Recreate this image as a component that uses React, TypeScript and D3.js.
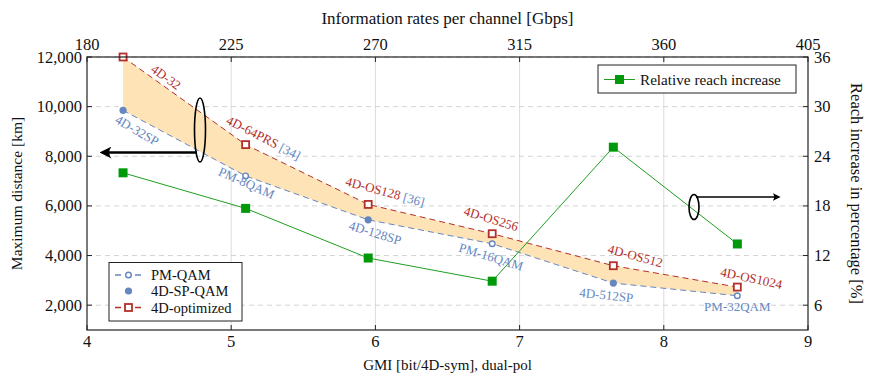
import React from "react";
import * as d3 from "d3";

const gmi = [4.25, 5.1, 5.95, 6.81, 7.65, 8.51];
const optimizedReach = [12000, 8470, 6060, 4880, 3590, 2730];
const baselineReach = [9850, 7210, 5440, 4475, 2890, 2380];
const baselineKind = ["sp", "pm", "sp", "pm", "sp", "pm"];
const reachIncrease = [22.0, 17.7, 11.7, 8.9, 25.1, 13.4];
const optLabels = ["4D-32", "4D-64PRS", "4D-OS128", "4D-OS256", "4D-OS512", "4D-OS1024"];
const optRefs = ["", " [34]", " [36]", "", "", ""];
const baseLabels = ["4D-32SP", "PM-8QAM", "4D-128SP", "PM-16QAM", "4D-512SP", "PM-32QAM"];

const xTicks = [4, 5, 6, 7, 8, 9];
const topTicks = [180, 225, 270, 315, 360, 405];
const leftTicks = [2000, 4000, 6000, 8000, 10000, 12000];
const rightTicks = [6, 12, 18, 24, 30, 36];

const W = 877, H = 376;
const L = 87, R = 808, T = 57, B = 330;

const RED = "#b3302a";
const BLUE = "#6686c0";
const GREEN = "#1f9e1f";
const FILL = "#fde3b6";
const FONT = "'Liberation Serif', 'DejaVu Serif', serif";
const TICK_FS = 16.5;

// label placement (offsets from point, rotation)
const optPlace = [
  { dx: 43, dy: 20, r: 36 },
  { dx: 18, dy: -7, r: 27 },
  { dx: 17, dy: -13, r: 15 },
  { dx: -1, dy: -15, r: 17 },
  { dx: 22, dy: -10, r: 15 },
  { dx: 14, dy: -9, r: 12 },
];
const basePlace = [
  { dx: 14, dy: 20, r: 30 },
  { dx: 1, dy: 7, r: 24 },
  { dx: 7, dy: 13, r: 17 },
  { dx: -1, dy: 13, r: 17 },
  { dx: -7, dy: 12, r: 6 },
  { dx: 0, dy: 11, r: 0 },
];

export default function App() {
  const x = d3.scaleLinear().domain([4, 9]).range([L, R]);
  const xTop = d3.scaleLinear().domain([180, 405]).range([L, R]);
  const yL = d3.scaleLinear().domain([1000, 12000]).range([B, T]);
  const yR = d3.scaleLinear().domain([3, 36]).range([B, T]);

  const idx = gmi.map((_, i) => i);
  const area = d3
    .area<number>()
    .x((i) => x(gmi[i]))
    .y0((i) => yL(baselineReach[i]))
    .y1((i) => yL(optimizedReach[i]));
  const lineOpt = d3.line<number>().x((i) => x(gmi[i])).y((i) => yL(optimizedReach[i]));
  const lineBase = d3.line<number>().x((i) => x(gmi[i])).y((i) => yL(baselineReach[i]));
  const lineGreen = d3.line<number>().x((i) => x(gmi[i])).y((i) => yR(reachIncrease[i]));

  const fmt = d3.format(",");

  return (
    <svg width={W} height={H} style={{ position: "absolute", left: 0, top: 0, background: "#fff" }} fontFamily={FONT}>
      <defs>
        <marker id="ah" viewBox="0 0 10 10" refX="8" refY="5" markerWidth="5" markerHeight="5" orient="auto-start-reverse">
          <path d="M0,0 Q4,5 0,10 L10,5 Z" fill="#000" />
        </marker>
        <clipPath id="plot">
          <rect x={L} y={T} width={R - L} height={B - T} />
        </clipPath>
      </defs>

      {/* grid */}
      {xTicks.slice(1, -1).map((t) => (
        <line key={"vx" + t} x1={x(t)} x2={x(t)} y1={T} y2={B} stroke="#dcdcdc" strokeWidth={1} />
      ))}
      {leftTicks.map((t) => (
        <line key={"hy" + t} x1={L} x2={R} y1={yL(t)} y2={yL(t)} stroke="#c8c8c8" strokeWidth={0.8} strokeDasharray="5,4" />
      ))}

      <g clipPath="url(#plot)">
        <path d={area(idx) || ""} fill={FILL} />
        <path d={lineBase(idx) || ""} fill="none" stroke={BLUE} strokeWidth={1} strokeDasharray="6,4" />
        <path d={lineOpt(idx) || ""} fill="none" stroke={RED} strokeWidth={1} strokeDasharray="6,4" />
        <path d={lineGreen(idx) || ""} fill="none" stroke={GREEN} strokeWidth={1} />
      </g>

      {/* markers */}
      {idx.map((i) => (
        <rect key={"g" + i} x={x(gmi[i]) - 4.5} y={yR(reachIncrease[i]) - 4.5} width={9} height={9} fill="#00990a" />
      ))}
      {idx.map((i) =>
        baselineKind[i] === "sp" ? (
          <circle key={"b" + i} cx={x(gmi[i])} cy={yL(baselineReach[i])} r={3.6} fill={BLUE} />
        ) : (
          <circle key={"b" + i} cx={x(gmi[i])} cy={yL(baselineReach[i])} r={2.8} fill="#fff" stroke={BLUE} strokeWidth={1.4} />
        )
      )}
      {idx.map((i) => (
        <rect key={"r" + i} x={x(gmi[i]) - 3.5} y={yL(optimizedReach[i]) - 3.5} width={7} height={7} fill="#fff" stroke={RED} strokeWidth={1.8} />
      ))}

      {/* labels */}
      {idx.map((i) => {
        const p = optPlace[i];
        const cx = x(gmi[i]) + p.dx, cy = yL(optimizedReach[i]) + p.dy;
        return (
          <text key={"ol" + i} x={cx} y={cy} fontSize={13} textAnchor="middle" dominantBaseline="central" transform={`rotate(${p.r},${cx},${cy})`} fill={RED}>
            {optLabels[i]}
            {optRefs[i] ? <tspan fill={BLUE}>{optRefs[i]}</tspan> : null}
          </text>
        );
      })}
      {idx.map((i) => {
        const p = basePlace[i];
        const cx = x(gmi[i]) + p.dx, cy = yL(baselineReach[i]) + p.dy;
        return (
          <text key={"bl" + i} x={cx} y={cy} fontSize={13} textAnchor="middle" dominantBaseline="central" transform={`rotate(${p.r},${cx},${cy})`} fill={BLUE}>
            {baseLabels[i]}
          </text>
        );
      })}

      {/* ellipses and arrows */}
      <ellipse cx={200} cy={130} rx={5.5} ry={32} fill="none" stroke="#000" strokeWidth={1.6} />
      <line x1={197} y1={152.5} x2={102} y2={152.5} stroke="#000" strokeWidth={2.4} markerEnd="url(#ah)" />
      <ellipse cx={694} cy={207} rx={5} ry={12.5} fill="none" stroke="#000" strokeWidth={1.6} />
      <line x1={696} y1={197} x2={779} y2={197} stroke="#000" strokeWidth={1.6} markerEnd="url(#ah)" />

      {/* frame */}
      <rect x={L} y={T} width={R - L} height={B - T} fill="none" stroke="#222" strokeWidth={1.2} />

      {/* ticks */}
      {xTicks.map((t) => (
        <g key={"xt" + t}>
          <line x1={x(t)} x2={x(t)} y1={B} y2={B - 5} stroke="#222" />
          <text x={x(t)} y={B + 17} fontSize={TICK_FS} textAnchor="middle" fill="#111">{t}</text>
        </g>
      ))}
      {topTicks.map((t) => (
        <g key={"tt" + t}>
          <line x1={xTop(t)} x2={xTop(t)} y1={T} y2={T + 5} stroke="#222" />
          <text x={xTop(t)} y={T - 7} fontSize={TICK_FS} textAnchor="middle" fill="#111">{t}</text>
        </g>
      ))}
      {leftTicks.map((t) => (
        <g key={"lt" + t}>
          <line x1={L} x2={L + 5} y1={yL(t)} y2={yL(t)} stroke="#222" />
          <text x={L - 5} y={yL(t) + 5.5} fontSize={TICK_FS} textAnchor="end" fill="#111">{fmt(t)}</text>
        </g>
      ))}
      {rightTicks.map((t) => (
        <g key={"rt" + t}>
          <line x1={R} x2={R - 5} y1={yR(t)} y2={yR(t)} stroke="#222" />
          <text x={R + 6} y={yR(t) + 5.5} fontSize={TICK_FS} textAnchor="start" fill="#111">{t}</text>
        </g>
      ))}

      {/* axis titles */}
      <text x={(L + R) / 2} y={370} fontSize={15} textAnchor="middle" fill="#111">GMI [bit/4D-sym], dual-pol</text>
      <text x={(L + R) / 2} y={24} fontSize={17} textAnchor="middle" fill="#111">Information rates per channel [Gbps]</text>
      <text transform={`translate(22,${(T + B) / 2}) rotate(-90)`} fontSize={15.5} textAnchor="middle" fill="#111">Maximum distance [km]</text>
      <text transform={`translate(851,${(T + B) / 2}) rotate(90)`} fontSize={16.5} textAnchor="middle" fill="#111">Reach increase in percentage [%]</text>

      {/* legend bottom-left */}
      <g>
        <rect x={109} y={262.5} width={133} height={58.5} fill="#fff" stroke="#222" strokeWidth={1} />
        <line x1={114} x2={143} y1={275} y2={275} stroke={BLUE} strokeWidth={1.6} strokeDasharray="6,4" strokeDashoffset={-1} />
        <circle cx={128.5} cy={275} r={2.8} fill="#fff" stroke={BLUE} strokeWidth={1.4} />
        <text x={151} y={280} fontSize={14.5} fill="#111">PM-QAM</text>
        <circle cx={128.5} cy={291} r={3.6} fill={BLUE} />
        <text x={151} y={296} fontSize={14.5} fill="#111">4D-SP-QAM</text>
        <line x1={114} x2={143} y1={307.5} y2={307.5} stroke={RED} strokeWidth={1.6} strokeDasharray="6,4" strokeDashoffset={-1} />
        <rect x={125} y={304} width={7} height={7} fill="#fff" stroke={RED} strokeWidth={1.8} />
        <text x={151} y={312.5} fontSize={14.5} fill="#111">4D-optimized</text>
      </g>

      {/* legend top-right */}
      <g>
        <rect x={598} y={65} width={198} height={28} fill="#fff" stroke="#222" strokeWidth={1} />
        <line x1={604} x2={635} y1={79.5} y2={79.5} stroke={GREEN} strokeWidth={1} />
        <rect x={615} y={75} width={9} height={9} fill="#00990a" />
        <text x={640} y={84.5} fontSize={15.2} fill="#111">Relative reach increase</text>
      </g>
    </svg>
  );
}
